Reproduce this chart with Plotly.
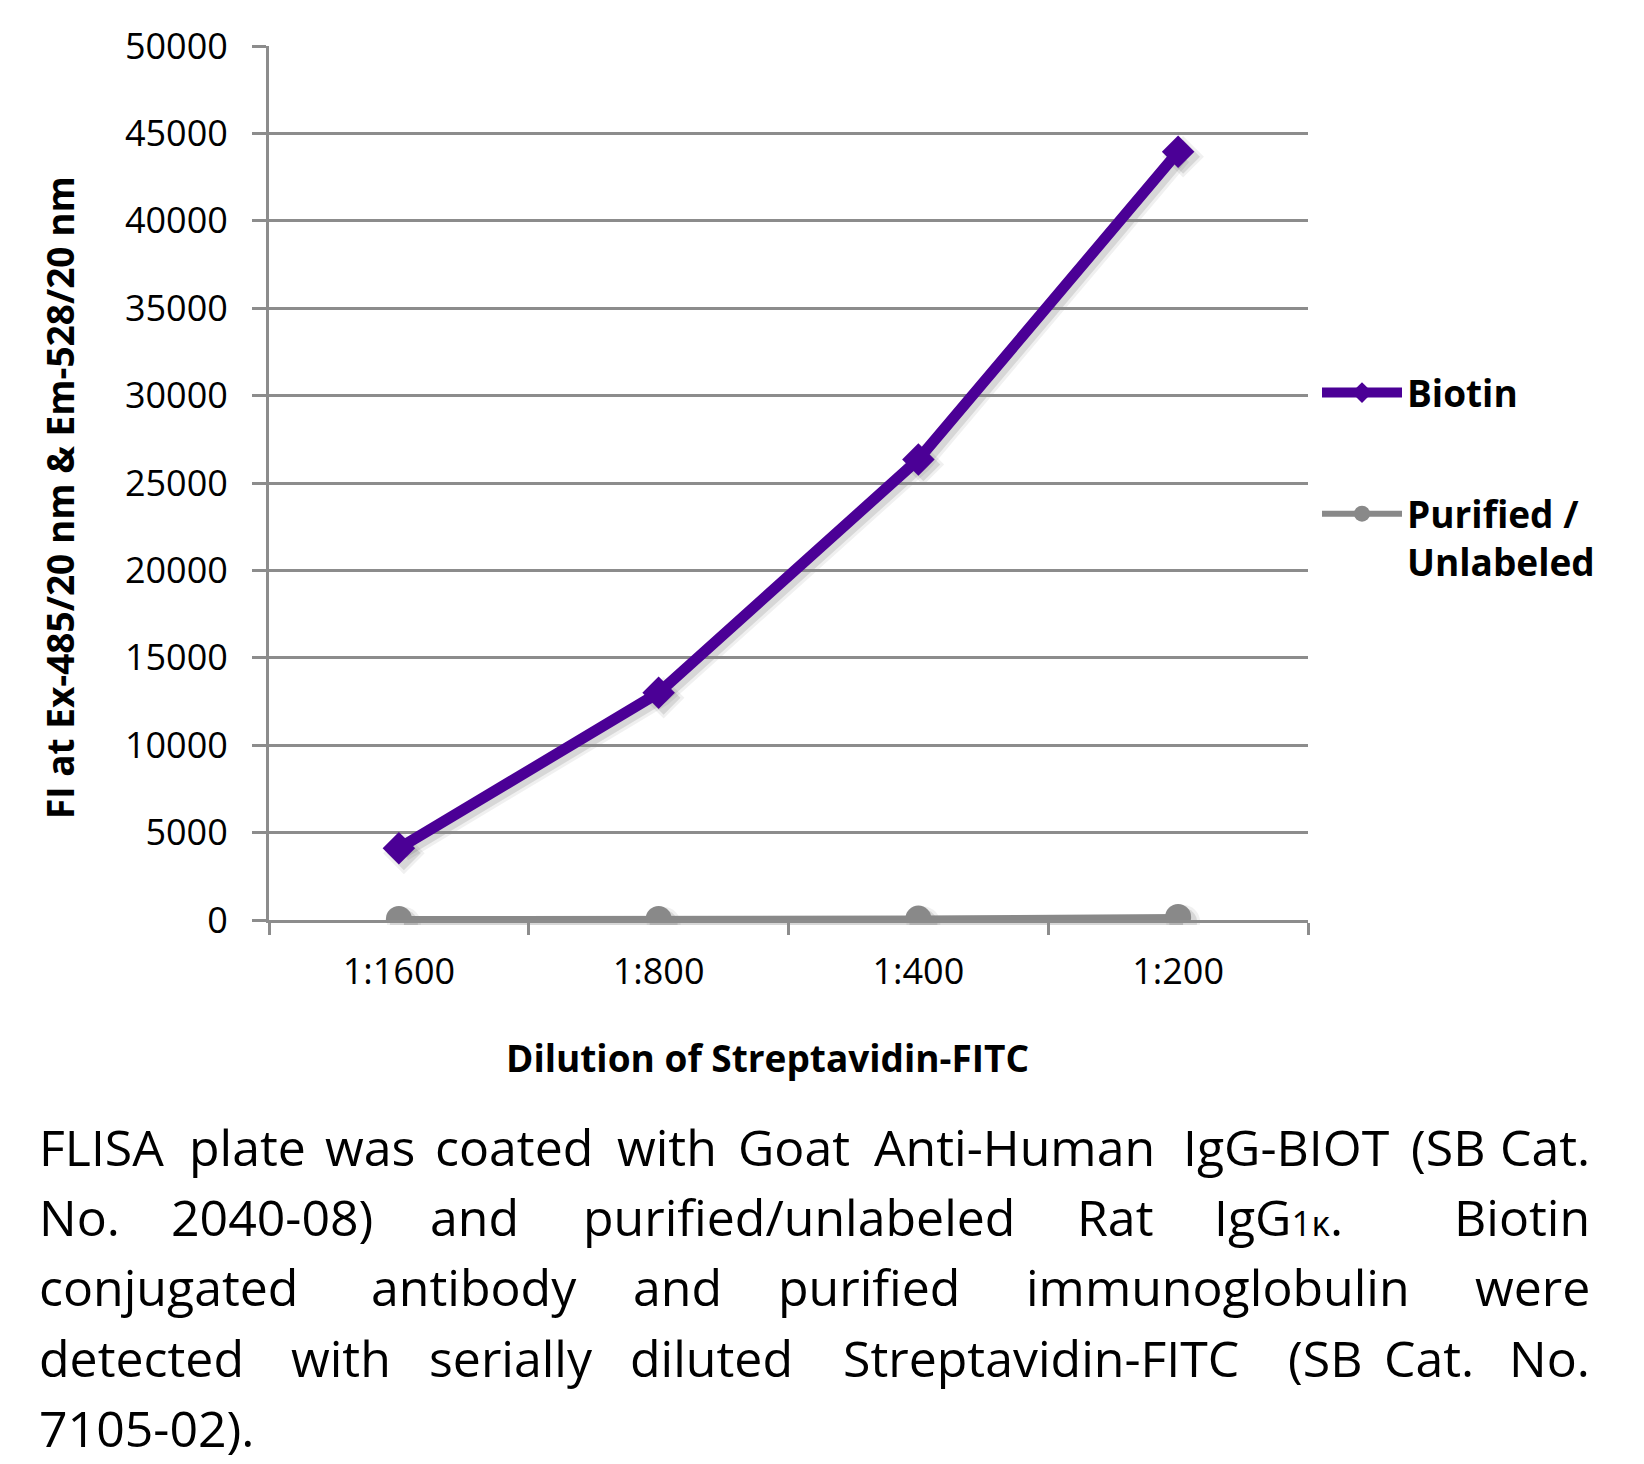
import plotly.graph_objects as go

# ---- data ----
dilutions = ["1:1600", "1:800", "1:400", "1:200"]
biotin = [4100, 13000, 26350, 43950]
purified = [60, 60, 80, 170]
y_ticks = [0, 5000, 10000, 15000, 20000, 25000, 30000, 35000, 40000, 45000, 50000]

y_title = "FI at Ex-485/20 nm & Em-528/20 nm"
x_title = "Dilution of Streptavidin-FITC"

caption_lines = [
    ["FLISA", "plate", "was", "coated", "with", "Goat", "Anti-Human", "IgG-BIOT", "(SB", "Cat."],
    ["No.", "2040-08)", "and", "purified/unlabeled", "Rat", "IgG<span style='font-size:35px'>1κ</span>.", "Biotin"],
    ["conjugated", "antibody", "and", "purified", "immunoglobulin", "were"],
    ["detected", "with", "serially", "diluted", "Streptavidin-FITC", "(SB", "Cat.", "No."],
    ["7105-02)."],
]
# word extents (display px)
caption_spans = [
    [(38, 165), (180, 295), (310, 397), (412, 570), (587, 685), (702, 812), (826, 1106), (1121, 1328), (1338, 1418), (1438, 1515)],
    [(38, 115), (162, 360), (410, 497), (545, 978), (1025, 1098), (1145, 1290), (1383, 1515)],
    [(38, 300), (348, 557), (603, 690), (738, 918), (965, 1355), (1403, 1515)],
    [(38, 245), (277, 375), (408, 567), (598, 758), (793, 1190), (1222, 1300), (1320, 1400), (1437, 1515)],
    [(38, 252)],
]
caption_rows = [1097, 1163, 1230, 1297, 1363]

# ---- layout geometry (real px) ----
W, H = 1644, 1464
AX_L, AX_R, AX_T, AX_B = 261, 1300, 38, 912   # visible plot area
SH = 5                                         # shadow offset
L, T = AX_L, AX_T
R, B = W - AX_R - SH, H - AX_B - SH
PW, PH = W - L - R, H - T - B


def px(x):
    return (x - L) / PW


def py(y):
    return 1 - (y - T) / PH


def cx(p):   # caption display -> real x
    return 1.0525 * p - 10.5


def cy(p):   # caption display -> real y
    return 1.054 * p - 17


GRID = "#8c8c8c"
PURPLE = "#4b0096"
GRAY = "#898989"
FONT = "Open Sans"

main_xdom = [0, (AX_R - AX_L) / PW]
main_ydom = [SH / PH, 1]
sh_xdom = [SH / PW, 1]
sh_ydom = [0, 1 - SH / PH]

fig = go.Figure()

# soft drop shadows, drawn on an offset, hidden copy of the axes (x/y)
for w, a in [(16, 0.06), (10, 0.10)]:
    fig.add_trace(go.Scatter(
        x=dilutions, y=biotin, xaxis="x", yaxis="y", mode="lines+markers",
        line=dict(color=f"rgba(0,0,0,{a})", width=w),
        marker=dict(symbol="diamond", size=24 + w - 8, color=f"rgba(0,0,0,{a})"),
        showlegend=False, hoverinfo="skip",
    ))
    fig.add_trace(go.Scatter(
        x=dilutions, y=purified, xaxis="x", yaxis="y", mode="lines+markers",
        line=dict(color=f"rgba(0,0,0,{a})", width=w - 4),
        marker=dict(symbol="circle", size=26 + w - 8, color=f"rgba(0,0,0,{a})"),
        showlegend=False, hoverinfo="skip",
    ))

# the visible chart (x2/y2)
fig.add_trace(go.Scatter(
    x=dilutions, y=biotin, name="<b>Biotin</b>", xaxis="x2", yaxis="y2",
    mode="lines+markers", line=dict(color=PURPLE, width=11),
    marker=dict(symbol="diamond", size=25, color=PURPLE),
    legendgroup="b",
))
fig.add_trace(go.Scatter(
    x=dilutions, y=purified, name="<b>Purified /<br>Unlabeled</b>", xaxis="x2", yaxis="y2",
    mode="lines+markers", line=dict(color=GRAY, width=6),
    marker=dict(symbol="circle", size=26, color=GRAY),
    legendgroup="p",
))

annotations = []
annotations.append(dict(
    text="<b>" + y_title + "</b>", x=px(52), y=py(490), xref="paper", yref="paper",
    textangle=-90, showarrow=False, font=dict(family=FONT, size=37, color="black"),
    xanchor="center", yanchor="middle",
))
annotations.append(dict(
    text="<b>" + x_title + "</b>", x=px(759), y=py(1049), xref="paper", yref="paper",
    showarrow=False, font=dict(family=FONT, size=37, color="black"),
    xanchor="center", yanchor="middle",
))
for words, spans, row in zip(caption_lines, caption_spans, caption_rows):
    n = len(words)
    for i, (w, (a, b)) in enumerate(zip(words, spans)):
        if i == 0:
            xx, anc = cx(a), "left"
        elif i == n - 1:
            xx, anc = cx(b), "right"
        else:
            xx, anc = cx((a + b) / 2), "center"
        annotations.append(dict(
            text=w, x=px(xx), y=py(cy(row)), xref="paper", yref="paper",
            showarrow=False, font=dict(family=FONT, size=50, color="black"),
            xanchor=anc, yanchor="middle",
        ))

axis_common = dict(type="category", range=[-0.5, 3.5])
fig.update_layout(
    width=W, height=H,
    margin=dict(l=L, r=R, t=T, b=B, pad=0),
    paper_bgcolor="white", plot_bgcolor="rgba(0,0,0,0)",
    font=dict(family=FONT, color="black"),
    showlegend=True,
    legend=dict(
        x=px(1309), y=py(354), xanchor="left", yanchor="top",
        font=dict(family=FONT, size=37, color="black"),
        itemwidth=80, tracegroupgap=70, valign="top",
        bgcolor="rgba(0,0,0,0)", traceorder="grouped",
    ),
    annotations=annotations,
    xaxis=dict(**axis_common, domain=sh_xdom, anchor="y", visible=False),
    yaxis=dict(range=[0, 50000], domain=sh_ydom, anchor="x", visible=False),
    xaxis2=dict(
        **axis_common, domain=main_xdom, anchor="y2", tickson="boundaries",
        showgrid=False, zeroline=False,
        showline=True, linecolor=GRID, linewidth=3,
        ticks="outside", ticklen=12, tickwidth=3, tickcolor=GRID,
        tickfont=dict(family=FONT, size=36, color="black"), ticklabelstandoff=18,
    ),
    yaxis2=dict(
        range=[0, 50000], domain=main_ydom, anchor="x2",
        tickvals=y_ticks, ticktext=[str(v) for v in y_ticks],
        showgrid=True, gridcolor=GRID, gridwidth=3, zeroline=False,
        showline=True, linecolor=GRID, linewidth=3,
        ticks="outside", ticklen=14, tickwidth=3, tickcolor=GRID,
        tickfont=dict(family=FONT, size=36, color="black"), ticklabelstandoff=17,
    ),
)

fig.write_html("out.html")
